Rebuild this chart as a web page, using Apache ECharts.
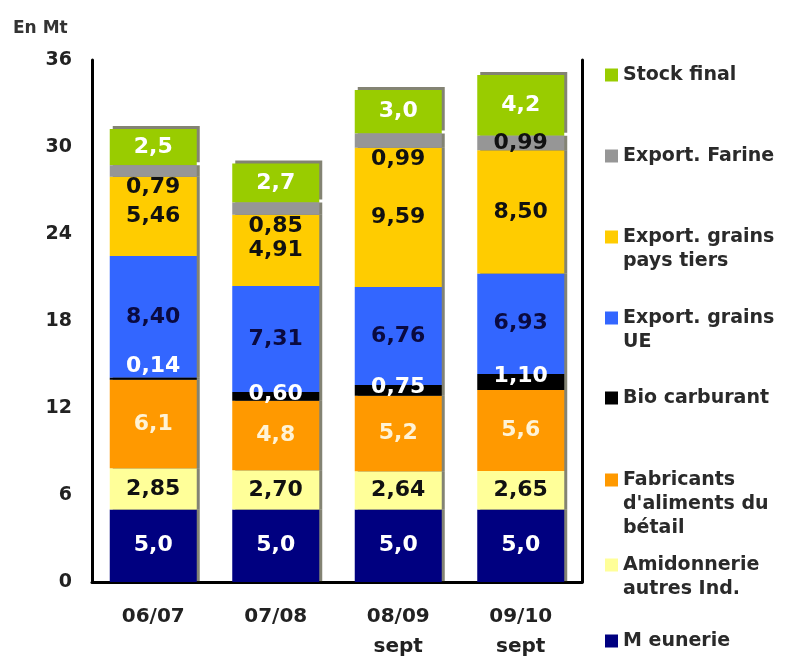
<!DOCTYPE html>
<html>
<head>
<meta charset="utf-8">
<title>Utilisations de blé tendre</title>
<script src="https://cdn.jsdelivr.net/npm/echarts@6.0.0/dist/echarts.min.js"></script>
<style>
	html, body { margin: 0; padding: 0; background: #fff; }
	#main { width: 803px; height: 659px; }
</style>
</head>
<body>
<div id="main"></div>
<script>
	// campagnes (axe x) et graduations (axe y)
	var campagnes = [ '06/07', '07/08', '08/09\nsept', '09/10\nsept' ];
	var yMin = 0;
	var yMax = 36;
	var yStep = 6;

	// valeurs en Mt, de bas en haut de la pile
	var meunerie = [ 5.0, 5.0, 5.0, 5.0 ];
	var amidonnerie = [ 2.85, 2.70, 2.64, 2.65 ];
	var fabricants = [ 6.1, 4.8, 5.2, 5.6 ];
	var bioCarburant = [ 0.14, 0.60, 0.75, 1.10 ];
	var exportUE = [ 8.40, 7.31, 6.76, 6.93 ];
	var exportTiers = [ 5.46, 4.91, 9.59, 8.50 ];
	var exportFarine = [ 0.79, 0.85, 0.99, 0.99 ];
	var stockFinal = [ 2.5, 2.7, 3.0, 4.2 ];

	var FONT = 'DejaVu Sans';

	function toComma(v, d) {
		return v.toFixed(d).replace('.', ',');
	}

	var defs = [
		{ name : 'M eunerie', data : meunerie, color : '#000080', txt : '#ffffff', dec : 1, legendY : 641 },
		{ name : 'Amidonnerie\nautres Ind.', data : amidonnerie, color : '#ffff99', txt : '#111111', dec : 2, legendY : 565 },
		{ name : 'Fabricants\nd\'aliments du\nbétail', data : fabricants, color : '#ff9900', txt : '#fff3d6', dec : 1, legendY : 480 },
		{ name : 'Bio carburant', data : bioCarburant, color : '#000000', txt : '#ffffff', dec : 2, legendY : 398 },
		{ name : 'Export. grains\nUE', data : exportUE, color : '#3366ff', txt : '#0a0a40', dec : 2, legendY : 318 },
		{ name : 'Export. grains\npays tiers', data : exportTiers, color : '#ffcc00', txt : '#111111', dec : 2, legendY : 237 },
		{ name : 'Export. Farine', data : exportFarine, color : '#969696', txt : '#111111', dec : 2, legendY : 156 },
		{ name : 'Stock final', data : stockFinal, color : '#99cc00', txt : '#ffffff', dec : 1, legendY : 75 }
	];

	var series = [];
	var legends = [];
	var LH = 24;
	for (var i = 0; i < defs.length; i++) {
		var d = defs[i];
		var label = {
			show : true,
			position : 'inside',
			color : d.txt,
			fontFamily : FONT,
			fontWeight : 'bold',
			fontSize : 22,
			formatter : (function(dec) {
				return function(p) {
					return toComma(p.value, dec);
				};
			})(d.dec)
		};
		var data = d.data.slice();
		if (d.data === bioCarburant) {
			// étiquette posée sur le haut de la bande noire
			label.position = 'top';
			label.distance = -13;
			data = bioCarburant.map(function(v, k) {
				return k === 0 ? { value : v, label : { distance : 0 } } : v;
			});
		}
		if (d.data === exportFarine) {
			label.position = 'bottom';
			label.distance = 0;
			data = exportFarine.map(function(v, k) {
				return k === 3 ? { value : v, label : { position : 'inside' } } : v;
			});
		}
		series.push({
			name : d.name,
			type : 'bar',
			stack : 'total',
			barWidth : 87,
			xAxisIndex : 0,
			yAxisIndex : 0,
			z : d.data === bioCarburant || d.data === exportFarine ? 3 : 2,
			itemStyle : {
				color : d.color,
				shadowColor : 'rgba(30,30,0,0.55)',
				shadowBlur : 0,
				shadowOffsetX : 3,
				shadowOffsetY : d.data === stockFinal ? -3 : 0
			},
			label : label,
			data : data
		});

		// le carré de légende est aligné sur la première ligne :
		// on ajoute des lignes vides au-dessus pour le centrage
		var n = d.name.split('\n').length;
		legends.push({
			data : [ d.name ],
			left : 605,
			top : d.legendY - LH * (2 * n - 1) / 2,
			padding : 0,
			icon : 'rect',
			itemWidth : 13,
			itemHeight : 13,
			selectedMode : false,
			formatter : (function(k) {
				return function(name) {
					return new Array(k).join(' \n') + name;
				};
			})(n),
			textStyle : {
				fontFamily : FONT,
				fontWeight : 'bold',
				fontSize : 19,
				color : '#2a2a2a',
				lineHeight : LH
			}
		});
	}

	var option = {
		backgroundColor : '#ffffff',
		animation : false,
		title : {
			text : 'En Mt',
			left : 13,
			top : 20,
			padding : 0,
			textStyle : {
				fontFamily : FONT,
				fontWeight : 'bold',
				fontSize : 17,
				color : '#333333'
			}
		},
		legend : legends,
		grid : {
			left : 92,
			right : 221,
			top : 60,
			bottom : 77,
			outerBoundsMode : 'none'
		},
		xAxis : [ {
			type : 'category',
			data : campagnes,
			axisLine : { show : false },
			axisTick : { show : false },
			axisLabel : {
				margin : 20,
				fontFamily : FONT,
				fontWeight : 'bold',
				fontSize : 20,
				lineHeight : 30,
				color : '#222222'
			}
		}, {
			type : 'category',
			position : 'top',
			data : campagnes,
			axisLine : { show : true, lineStyle : { color : '#000000', width : 3 } },
			axisTick : { show : false },
			axisLabel : { show : false }
		} ],
		yAxis : [ {
			type : 'value',
			min : yMin,
			max : yMax,
			interval : yStep,
			axisLine : { show : true, lineStyle : { color : '#000000', width : 3 } },
			axisTick : { show : false },
			splitLine : { show : false },
			axisLabel : {
				margin : 20,
				fontFamily : FONT,
				fontWeight : 'bold',
				fontSize : 19,
				color : '#222222'
			}
		}, {
			type : 'value',
			position : 'right',
			min : yMin,
			max : yMax,
			interval : yStep,
			axisLine : { show : true, lineStyle : { color : '#000000', width : 3 } },
			axisTick : { show : false },
			splitLine : { show : false },
			axisLabel : { show : false }
		} ],
		series : series
	};

	var mychart = echarts.init(document.getElementById('main'));
	mychart.setOption(option);
</script>
</body>
</html>
